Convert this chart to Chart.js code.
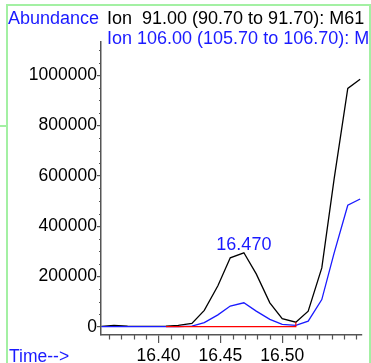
<!DOCTYPE html>
<html lang="en">
<head>
<meta charset="UTF-8">
<title>Ion chromatogram</title>
<script src="https://cdn.jsdelivr.net/npm/chart.js"></script>
<style>
  html, body { margin: 0; padding: 0; background: #fff; }
  #chart { display: block; }
</style>
</head>
<body>
<canvas id="chart" width="371" height="363"></canvas>
<script>
  // retention times (min) and abundances
  const times = [16.354, 16.364, 16.375, 16.385, 16.396, 16.406, 16.416, 16.427, 16.437, 16.448, 16.458,
                 16.469, 16.479, 16.490, 16.500, 16.511, 16.521, 16.532, 16.542, 16.553, 16.563];
  const ion91 = [1000, 5000, 2000, 1000, 1000, 2000, 5000, 13000, 65000, 163000, 274000,
                 294000, 210000, 95000, 32000, 18000, 62000, 234000, 589000, 948000, 984000];
  const ion106 = [500, 500, 500, 500, 500, 500, 500, 2000, 16000, 47000, 82000,
                  95000, 62000, 29000, 9000, 5000, 22000, 108000, 294000, 483000, 508000];

  // integration baseline for the labelled peak
  const integTimes = [16.406, 16.511, 16.511];
  const integValues = [0, 0, 18000];
  const peakTime = 16.469;
  const peakValue = 294000;
  const peakLabel = '16.470';

  const xTicks = [16.40, 16.45, 16.50];
  const xMinor = [16.36, 16.37, 16.38, 16.39, 16.41, 16.42, 16.43, 16.44, 16.46, 16.47, 16.48,
                  16.49, 16.51, 16.52, 16.53, 16.54, 16.55, 16.56];
  const yTicks = [0, 200000, 400000, 600000, 800000, 1000000];
  const yMinor = [50000, 100000, 150000, 250000, 300000, 350000, 450000, 500000, 550000, 650000, 700000,
                  750000, 850000, 900000, 950000, 1050000, 1100000];

  const header1 = 'Ion  91.00 (90.70 to 91.70): M61';
  const header2 = 'Ion 106.00 (105.70 to 106.70): M61';

  const BLUE = '#1a1aff';
  const AXIS = '#555';
  const FONT = 'Arial, "Liberation Sans", sans-serif';

  const pts = (xs, ys) => xs.map((t, i) => ({ x: t, y: ys[i] }));

  const decorations = {
    id: 'decorations',
    afterDraw(chart) {
      const ctx = chart.ctx;
      const xs = chart.scales.x, ys = chart.scales.y;
      const area = chart.chartArea;
      ctx.save();

      // minor ticks
      ctx.strokeStyle = AXIS;
      ctx.lineWidth = 1.2;
      ctx.beginPath();
      xMinor.forEach(v => {
        const px = Math.round(xs.getPixelForValue(v)) + 0.5;
        ctx.moveTo(px, area.bottom);
        ctx.lineTo(px, area.bottom + 4.5);
      });
      yMinor.forEach(v => {
        const py = Math.round(ys.getPixelForValue(v)) + 0.5;
        ctx.moveTo(area.left - 2, py);
        ctx.lineTo(area.left, py);
      });
      ctx.stroke();

      // peak label
      ctx.fillStyle = BLUE;
      ctx.font = '18px ' + FONT;
      ctx.textAlign = 'center';
      ctx.textBaseline = 'alphabetic';
      ctx.fillText(peakLabel, xs.getPixelForValue(peakTime), ys.getPixelForValue(peakValue) - 3);

      // headers
      ctx.textAlign = 'left';
      ctx.fillStyle = BLUE;
      ctx.fillText('Abundance', 8, 23.5);
      ctx.fillStyle = '#000';
      ctx.fillText(header1, 107, 23.5);
      ctx.fillStyle = BLUE;
      ctx.fillText(header2, 107, 44);
      ctx.font = '17.5px ' + FONT;
      ctx.fillText('Time-->', 9, 362);

      // green frame
      ctx.strokeStyle = '#a3f0a3';
      ctx.lineWidth = 2;
      ctx.beginPath();
      ctx.moveTo(7, 363); ctx.lineTo(7, 5); ctx.lineTo(370, 5); ctx.lineTo(370, 363);
      ctx.moveTo(0, 126); ctx.lineTo(7, 126);
      ctx.stroke();
      ctx.restore();
    }
  };

  new Chart(document.getElementById('chart'), {
    type: 'line',
    data: {
      datasets: [
        { data: pts(integTimes, integValues), borderColor: '#ff0000', borderWidth: 1.2 },
        { data: pts(times, ion106), borderColor: BLUE, borderWidth: 1.3 },
        { data: pts(times, ion91), borderColor: '#000', borderWidth: 1.3 }
      ]
    },
    options: {
      responsive: false,
      animation: false,
      layout: { padding: { top: 42, right: 9, left: 0, bottom: 0 } },
      elements: { point: { radius: 0 }, line: { tension: 0 } },
      plugins: { legend: { display: false }, tooltip: { enabled: false } },
      scales: {
        x: {
          type: 'linear',
          min: 16.3535,
          max: 16.5645,
          afterBuildTicks: s => { s.ticks = xTicks.map(v => ({ value: v })); },
          afterFit: s => { s.height = 28; },
          ticks: {
            callback: v => v.toFixed(2),
            color: '#000',
            font: { family: FONT, size: 17.5 },
            padding: 3,
            maxRotation: 0,
            autoSkip: false
          },
          grid: { drawOnChartArea: false, tickLength: 8, color: AXIS, lineWidth: 1.2 },
          border: { color: AXIS, width: 1.5 }
        },
        y: {
          min: -33000,
          max: 1132500,
          afterBuildTicks: s => { s.ticks = yTicks.map(v => ({ value: v })); },
          afterFit: s => { s.width = 101; },
          ticks: {
            callback: v => String(v),
            color: '#000',
            font: { family: FONT, size: 17.5 },
            padding: 0
          },
          grid: { drawOnChartArea: false, tickLength: 4, color: AXIS, lineWidth: 1.2 },
          border: { color: AXIS, width: 1.5 }
        }
      }
    },
    plugins: [decorations]
  });
</script>
</body>
</html>
